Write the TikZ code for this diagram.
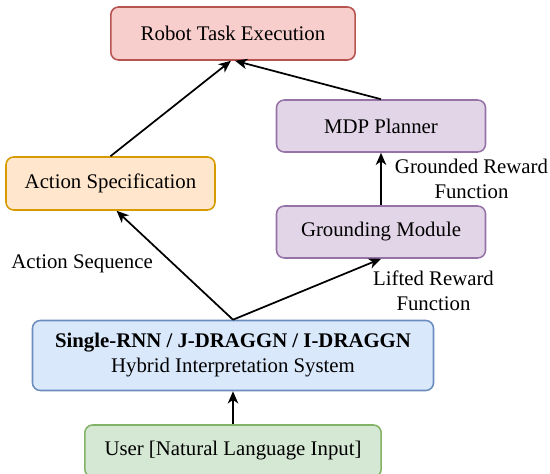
\documentclass[tikz,border=0pt]{standalone}
\usepackage{fontspec}
\setmainfont{Liberation Serif}
\usetikzlibrary{arrows.meta}
\definecolor{redfill}{HTML}{F8CECC}
\definecolor{redline}{HTML}{B85450}
\definecolor{purplefill}{HTML}{E1D5E7}
\definecolor{purpleline}{HTML}{9673A6}
\definecolor{orangefill}{HTML}{FFE6CC}
\definecolor{orangeline}{HTML}{D79B00}
\definecolor{bluefill}{HTML}{DAE8FC}
\definecolor{blueline}{HTML}{6C8EBF}
\definecolor{greenfill}{HTML}{D5E8D4}
\definecolor{greenline}{HTML}{82B366}
\begin{document}
\begin{tikzpicture}[x=0.577pt,y=0.577pt]
		\tikzstyle{every node}+=[font=\fontsize{12}{14.4}\selectfont]
		\tikzstyle{box}=[draw, rounded corners=4.5pt, line width=0.9pt, align=center, inner sep=0pt]
		\tikzstyle{flow}=[-{Stealth[length=7pt,width=6pt,inset=2pt]}, line width=1pt]
		\useasboundingbox (0,0) rectangle (550,-474);
		\node [box, fill=redfill, draw=redline, minimum width=141pt, minimum height=30.6pt] (robot) at (233,-33.5) {Robot Task Execution};
		\node [box, fill=purplefill, draw=purpleline, minimum width=120.6pt, minimum height=30pt] (mdp) at (381,-126) {MDP Planner};
		\node [box, fill=orangefill, draw=orangeline, minimum width=120.6pt, minimum height=30.6pt] (action) at (110.5,-183.5) {Action Specification};
		\node [box, fill=purplefill, draw=purpleline, minimum width=120.6pt, minimum height=30pt] (grounding) at (381,-232) {Grounding Module};
		\node [box, fill=bluefill, draw=blueline, minimum width=231.4pt, minimum height=40.4pt] (hybrid) at (233,-355.5) {\textbf{Single-RNN / J-DRAGGN / I-DRAGGN}\\Hybrid Interpretation System};
		\node [box, fill=greenfill, draw=greenline, minimum width=171pt, minimum height=30pt] (user) at (233,-451) {User [Natural Language Input]};
		\draw [flow] (action.north) -- ([xshift=-1.2pt]robot.south);
		\draw [flow] (mdp.north) -- ([xshift=1.2pt]robot.south);
		\draw [flow] (grounding.north) -- (mdp.south);
		\draw [flow] (hybrid.north) -- ([xshift=3.5pt]action.south);
		\draw [flow] (hybrid.north) -- (grounding.south);
		\draw [flow] (user.north) -- (hybrid.south);
		\node [align=center] (groundedlbl) at (471.5,-178.5) {Grounded Reward\\Function};
		\node (seqlbl) at (82,-264) {Action Sequence};
		\node [align=center] (liftedlbl) at (433.5,-291) {Lifted Reward\\Function};
\end{tikzpicture}
\end{document}
